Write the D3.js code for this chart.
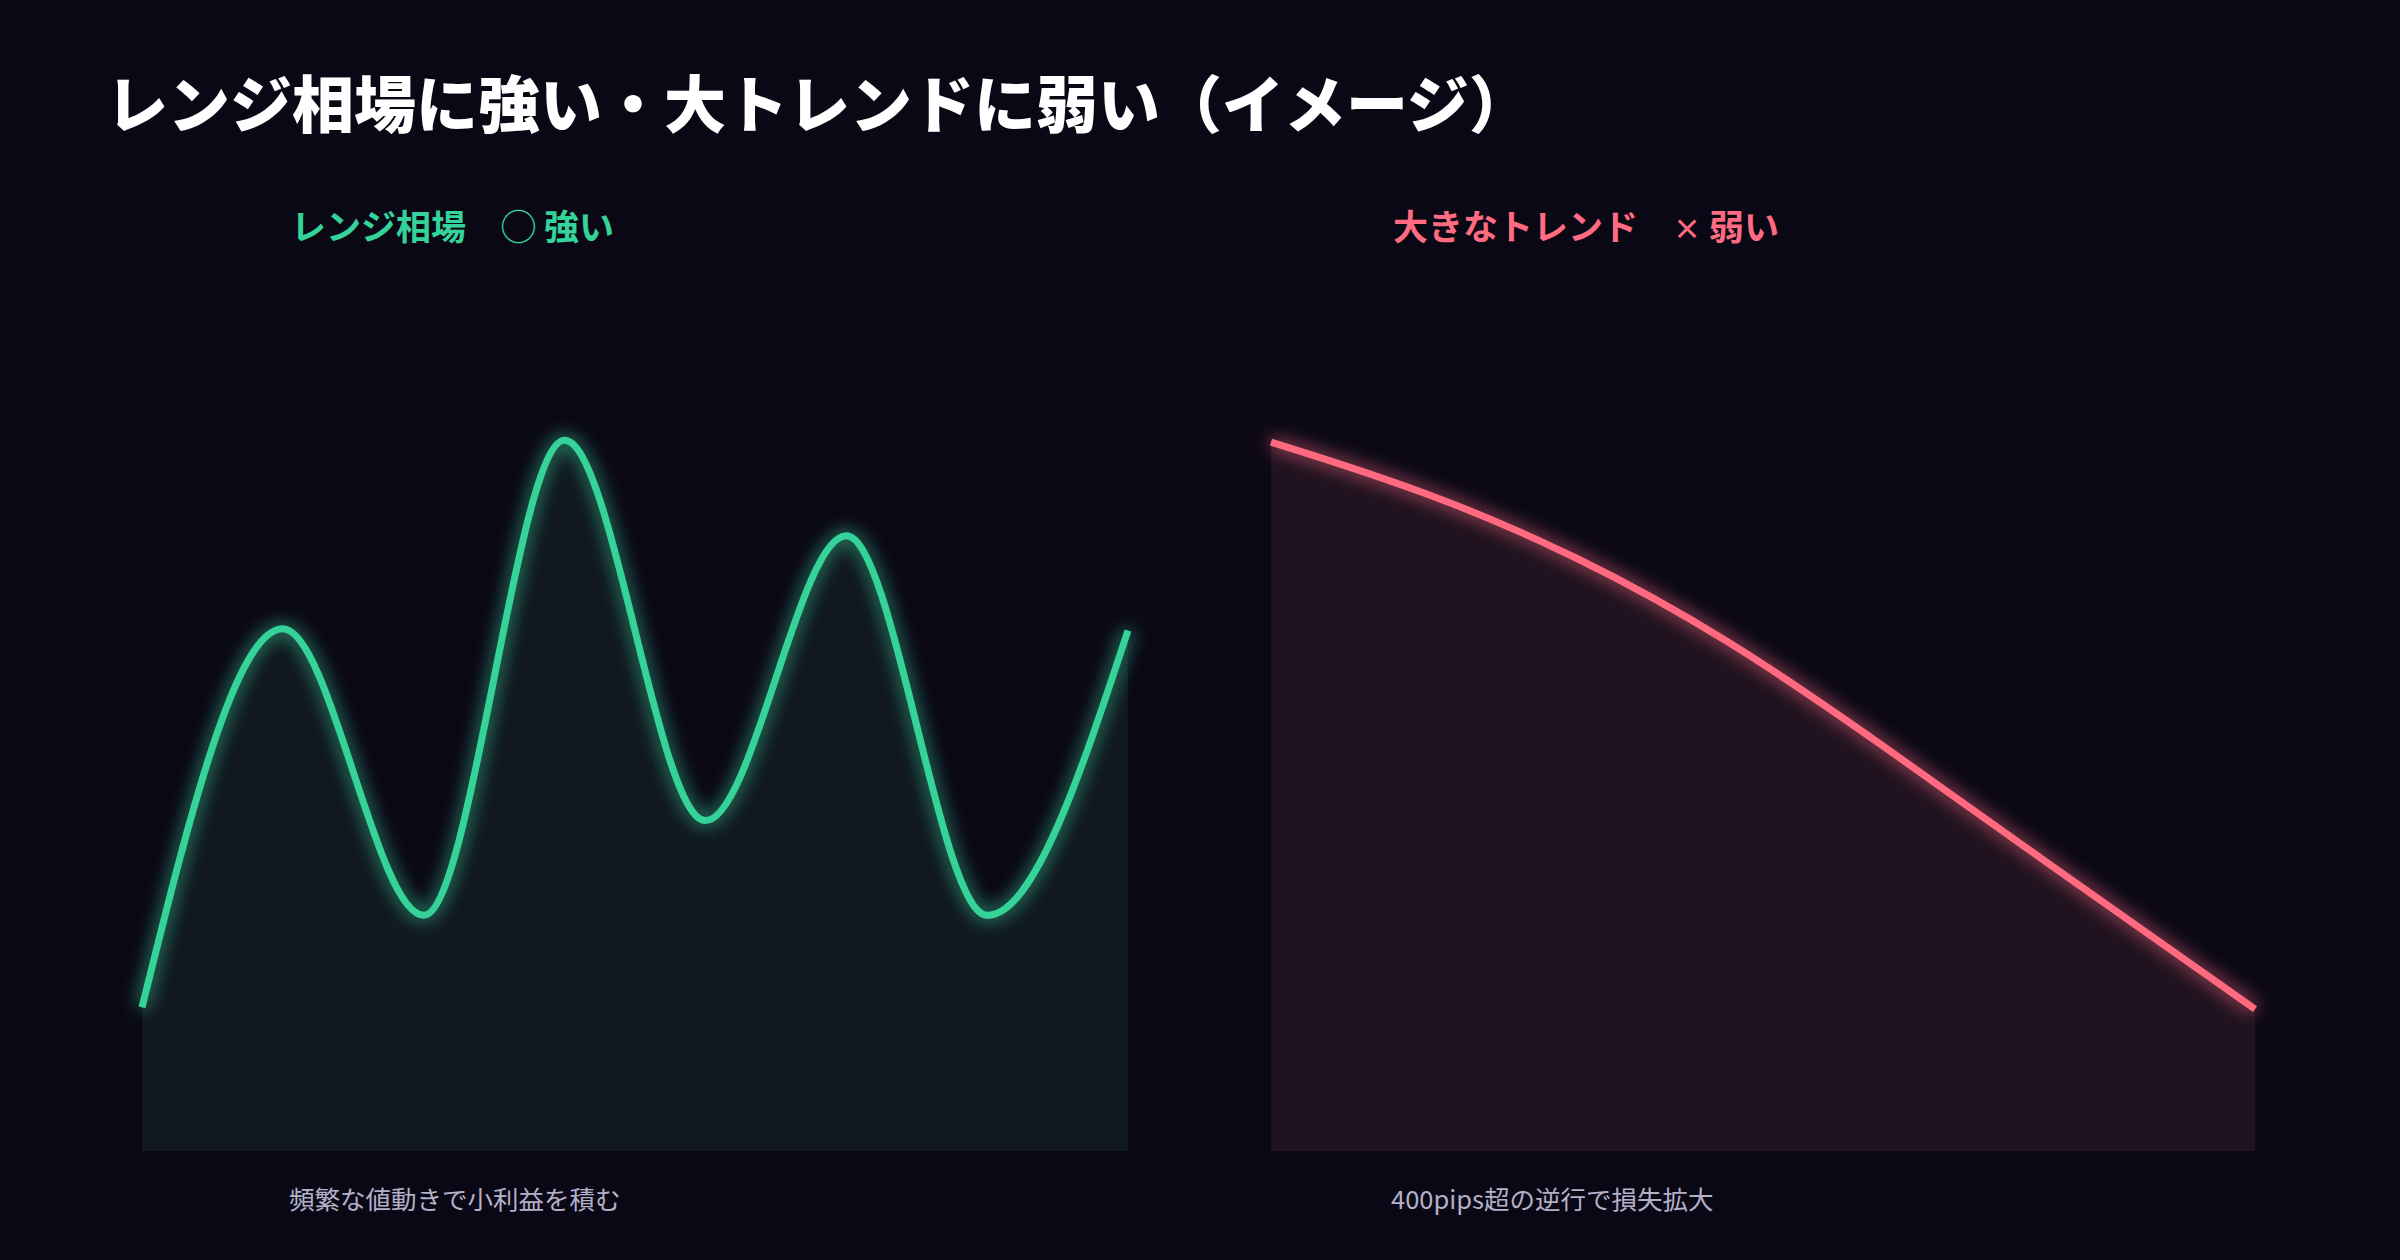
<!DOCTYPE html>
<html><head><meta charset="utf-8">
<script src="https://cdn.jsdelivr.net/npm/d3@7"></script>
<style>
body{margin:0;background:#0b0816;}
text{font-family:"Noto Sans CJK JP","Noto Sans",sans-serif;}
</style></head>
<body><svg id="c" width="2400" height="1260"></svg>
<script>
// range market: oscillating price
const rangeX = [0, 1, 2, 3, 4, 5, 6, 7]
const rangeY = [17, 61.8, 27.9, 84.1, 39.1, 72.8, 27.9, 61.6]
// big trend: steady decline
const trendX = [0, 100, 200, 300, 400, 500, 643]
const trendY = [83.9, 78.2, 70.5, 60.5, 48.0, 35.0, 16.8]

const svg = d3.select('#c')
svg.append('rect').attr('width', 2400).attr('height', 1260).attr('fill', '#0b0816')

const defs = svg.append('defs')
const glow = defs.append('filter').attr('id', 'glow').attr('x', '-10%').attr('y', '-10%').attr('width', '120%').attr('height', '120%')
glow.append('feGaussianBlur').attr('stdDeviation', 9).attr('result', 'b')
const m = glow.append('feMerge')
m.append('feMergeNode').attr('in', 'b')
m.append('feMergeNode').attr('in', 'SourceGraphic')

svg.append('text').attr('x', 106).attr('y', 128)
	.attr('font-size', 62).attr('font-weight', 900).attr('fill', '#ffffff')
	.text('レンジ相場に強い・大トレンドに弱い（イメージ）')

const yScale = d3.scaleLinear().domain([0, 100]).range([1151, 306])

function panel(xs, ys, x0, x1, color, fill, title, mark, note, tx, curve) {
	const xScale = d3.scaleLinear().domain(d3.extent(xs)).range([x0, x1])
	const pts = xs.map((x, i) => [x, ys[i]])
	const area = d3.area().x(d => xScale(d[0])).y0(yScale(0)).y1(d => yScale(d[1])).curve(curve)
	const line = d3.line().x(d => xScale(d[0])).y(d => yScale(d[1])).curve(curve)
	svg.append('path').datum(pts).attr('d', area).attr('fill', fill)
	svg.append('path').datum(pts).attr('d', line).attr('fill', 'none')
		.attr('stroke', color).attr('stroke-width', 7).attr('filter', 'url(#glow)')
	const t = svg.append('text').attr('x', tx).attr('y', 240)
		.attr('font-size', 35).attr('font-weight', 700).attr('fill', color)
	t.append('tspan').text(title + '　')
	t.append('tspan').attr('font-size', mark.size).text(mark.text)
	t.append('tspan').text(mark.word)
	svg.append('text').attr('x', tx - 2).attr('y', 1209)
		.attr('font-size', 25.5).attr('fill', '#b4b0c8').text(note)
}

panel(rangeX, rangeY, 142, 1128, '#34d399', '#111820', 'レンジ相場',
	{ text: '◯', size: 35, word: ' 強い' }, '頻繁な値動きで小利益を積む', 291, d3.curveMonotoneX)
panel(trendX, trendY, 1271, 2255, '#ff6b81', '#20121f', '大きなトレンド',
	{ text: '×', size: 28, word: ' 弱い' }, '400pips超の逆行で損失拡大', 1393, d3.curveBasis)
</script></body></html>
